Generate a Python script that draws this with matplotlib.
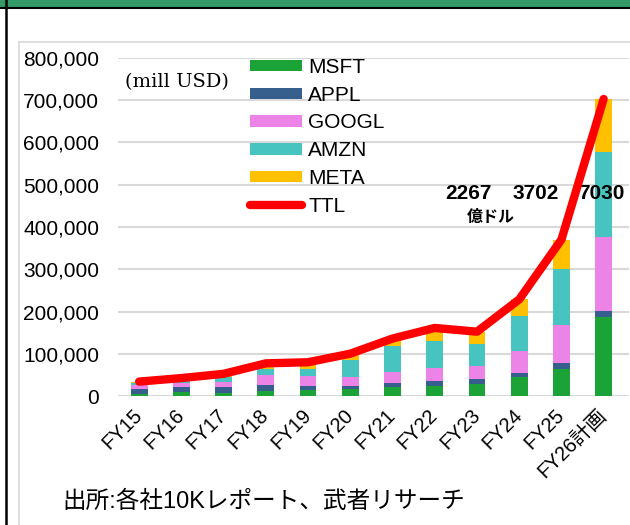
import matplotlib as mpl
mpl.use('Agg')
import matplotlib.pyplot as plt
import numpy as np
from matplotlib.patches import Patch, Rectangle
from matplotlib.lines import Line2D

######################
## data (mill USD)
######################

years = ['FY15', 'FY16', 'FY17', 'FY18', 'FY19', 'FY20', 'FY21', 'FY22',
         'FY23', 'FY24', 'FY25', 'FY26計画']
msft = [5900, 8300, 8100, 11600, 13900, 15400, 20600, 23900, 28100, 44500, 64600, 188000]
appl = [11200, 12700, 12500, 13300, 10500, 7300, 11100, 10700, 11000, 9400, 12700, 14000]
googl = [9900, 10200, 13200, 25100, 23500, 22300, 24600, 31500, 32300, 52500, 91400, 175000]
amzn = [4600, 6700, 12000, 13400, 16900, 40100, 61100, 63600, 52700, 83000, 131800, 200000]
meta = [2500, 4500, 6700, 13900, 15100, 15100, 18600, 31400, 28100, 39200, 69700, 126000]

series = ['MSFT', 'APPL', 'GOOGL', 'AMZN', 'META']
colors = ['#1ba338', '#365f8e', '#ec84e8', '#47c4c0', '#ffc000']

notes = ['2267', '3702', '7030']
note_x = [7.8, 9.38, 10.95]

######################
## setup plot
######################

fig = plt.figure(figsize=(6.3, 5.25), dpi=100)
ax = fig.add_axes([118 / 630, 1 - 396 / 525, 511 / 630, 338 / 525])

x = np.arange(len(years))
stack = np.vstack([msft, appl, googl, amzn, meta])
ttl = stack.sum(axis=0)

bottom = np.zeros(len(years))
for vals, c in zip(stack, colors):
    ax.bar(x, vals, width=0.4, bottom=bottom, color=c, zorder=3)
    bottom += vals

ax.plot(x, ttl, color='#ff0000', linewidth=6, solid_capstyle='round',
        solid_joinstyle='round', zorder=5)

ax.set_xlim(-0.5, 11.6)
ax.set_ylim(0, 800000)
ax.set_yticks(np.arange(0, 800001, 100000))
ax.yaxis.set_major_formatter(mpl.ticker.FuncFormatter(lambda v, p: '{:,.0f}'.format(v)))
ax.grid(axis='y', color='#d9d9d9', linewidth=1.5, zorder=0)
for s in ax.spines.values():
    s.set_visible(False)
ax.tick_params(length=0)
ax.tick_params(axis='y', pad=13.5)
ax.tick_params(axis='x', pad=12)

ax.set_xticks(x)
ax.set_xticklabels(years, rotation=45, ha='right', va='center', rotation_mode='anchor',
                   family=['Liberation Sans', 'Noto Sans CJK JP'], fontsize=14.5)
for lab in ax.get_yticklabels():
    lab.set_family('Liberation Sans')
    lab.set_fontsize(15)

## legend
handles = [Patch(facecolor=c) for c in colors]
handles.append(Line2D([0], [0], color='#ff0000', linewidth=6, solid_capstyle='round'))
fig.legend(handles, series + ['TTL'], loc='upper left',
           bbox_to_anchor=(250 / 630, 1 - 58 / 525), frameon=False,
           prop={'family': 'Liberation Sans', 'size': 15},
           handlelength=2.5, handleheight=0.48, handletextpad=0.3,
           labelspacing=0.42, borderpad=0, borderaxespad=0)

fig.text(125 / 630, 1 - 82 / 525, '(mill USD)', family='DejaVu Serif',
         fontsize=14, va='center', ha='left')

## annotations
for n, xi in zip(notes, note_x):
    ax.text(xi, 480000, n, ha='center', va='center',
            family=['Liberation Sans Narrow', 'Liberation Sans'],
            fontsize=15, fontweight='bold')
ax.text(8.32, 424000, '億ドル', ha='center', va='center',
        family=['Noto Sans CJK JP'], fontsize=11.5, fontweight='bold')

## footer
fig.text(62 / 630, 1 - 502 / 525, '出所:各社10Kレポート、武者リサーチ',
         family=['Liberation Sans', 'Noto Sans CJK JP'], fontsize=17,
         va='center', ha='left')

## frame decorations
fig.add_artist(Rectangle((0, 1 - 7 / 525), 1, 7 / 525, transform=fig.transFigure,
                         color='#339966', zorder=0))
fig.add_artist(Line2D([0, 1], [1 - 7.5 / 525] * 2, transform=fig.transFigure,
                      color='black', linewidth=1.5))
fig.add_artist(Line2D([6 / 630] * 2, [0, 1], transform=fig.transFigure,
                      color='black', linewidth=1.8))
fig.add_artist(Line2D([19 / 630] * 2, [0, 1 - 42 / 525], transform=fig.transFigure,
                      color='#d9d9d9', linewidth=1.2))
fig.add_artist(Line2D([19 / 630, 1], [1 - 42 / 525] * 2, transform=fig.transFigure,
                      color='#d9d9d9', linewidth=1.2))

plt.savefig('out.png', dpi=100)
